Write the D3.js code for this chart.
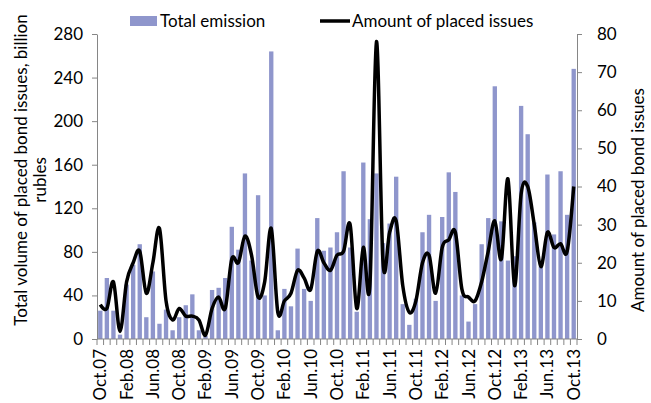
<!DOCTYPE html>
<html>
<head>
<meta charset="utf-8">
<script src="https://cdn.jsdelivr.net/npm/d3@7"></script>
<style>
  body { margin: 0; background: #fff; }
  svg text { font-family: Lato, "Open Sans", sans-serif; fill: #000; }
</style>
</head>
<body>
<div class="chart-output"></div>
<script>
var months = ["Oct.07","Nov.07","Dec.07","Jan.08","Feb.08","Mar.08","Apr.08","May.08","Jun.08","Jul.08","Aug.08","Sep.08",
  "Oct.08","Nov.08","Dec.08","Jan.09","Feb.09","Mar.09","Apr.09","May.09","Jun.09","Jul.09","Aug.09","Sep.09",
  "Oct.09","Nov.09","Dec.09","Jan.10","Feb.10","Mar.10","Apr.10","May.10","Jun.10","Jul.10","Aug.10","Sep.10",
  "Oct.10","Nov.10","Dec.10","Jan.11","Feb.11","Mar.11","Apr.11","May.11","Jun.11","Jul.11","Aug.11","Sep.11",
  "Oct.11","Nov.11","Dec.11","Jan.12","Feb.12","Mar.12","Apr.12","May.12","Jun.12","Jul.12","Aug.12","Sep.12",
  "Oct.12","Nov.12","Dec.12","Jan.13","Feb.13","Mar.13","Apr.13","May.13","Jun.13","Jul.13","Aug.13","Sep.13","Oct.13"];

// total emission, billion rubles
var emission = [26,56,26,4,50,68,87,20,62,14,27,8,
  20,31,41,8,3,45,47,56,103,82,152,72,
  132,40,264,8,46,30,83,46,35,111,81,84,
  98,154,84,25,162,110,152,88,106,149,32,13,
  37,98,114,35,112,153,135,40,16,32,87,111,
  232,108,72,76,214,188,107,70,151,96,154,114,248];

// amount of placed issues
var issues = [9,8,15,2,15,20,23,12,20,29,10,5,
  8,6,6,5,1,8,11,8,21,20,27,22,
  11,15,29,7,10,12,18,16,13,23,20,18,
  22,23,30,8,24,14,78,20,28,31,14,7,
  10,20,22,12,24,26,28,13,11,10,15,23,
  31,21,42,14,38,40,30,19,28,24,25,23,40];

var tickLabels = ["Oct.07","Feb.08","Jun.08","Oct.08","Feb.09","Jun.09","Oct.09","Feb.10","Jun.10","Oct.10",
  "Feb.11","Jun.11","Oct.11","Feb.12","Jun.12","Oct.12","Feb.13","Jun.13","Oct.13"];
var leftTicks = [0,40,80,120,160,200,240,280];
var rightTicks = [0,10,20,30,40,50,60,70,80];

(function() {
var w = 651, h = 403;
var pLeft = 97, pRight = 577, pTop = 34, pBottom = 339;
var axisColor = "#868686";
var fs = "17px";

var svg = d3.select(".chart-output").append("svg")
  .attr("width", w).attr("height", h);

var x = d3.scaleBand().domain(months).range([pLeft, pRight]).paddingInner(0.34).paddingOuter(0.17);
var xc = function(m) { return x(m) + x.bandwidth() / 2; };
var yL = d3.scaleLinear().domain([0, 280]).range([pBottom, pTop]);
var yR = d3.scaleLinear().domain([0, 80]).range([pBottom, pTop]);

// bars
svg.append("g").selectAll("rect")
  .data(emission)
  .enter()
  .append("rect")
  .attr("x", function(d, i) { return x(months[i]); })
  .attr("y", function(d) { return yL(d); })
  .attr("width", x.bandwidth())
  .attr("height", function(d) { return pBottom - yL(d); })
  .attr("fill", "#8f96cc");

// smoothed line
var line = d3.line()
  .x(function(d, i) { return xc(months[i]); })
  .y(function(d) { return yR(d); })
  .curve(d3.curveCatmullRom.alpha(0));

svg.append("path")
  .datum(issues)
  .attr("d", line)
  .attr("fill", "none")
  .attr("stroke", "#000")
  .attr("stroke-width", 3.5)
  .attr("stroke-linejoin", "round");

// left axis
var gl = svg.append("g").attr("transform", "translate(" + pLeft + ",0)")
  .call(d3.axisLeft(yL).tickValues(leftTicks).tickSize(5).tickPadding(9).tickSizeOuter(0));

// right axis
var gr = svg.append("g").attr("transform", "translate(" + pRight + ",0)")
  .call(d3.axisRight(yR).tickValues(rightTicks).tickSize(5).tickPadding(15).tickSizeOuter(0));

[gl, gr].forEach(function(g) {
  g.selectAll("text").style("font-size", fs).style("font-family", "Lato, sans-serif");
  g.selectAll("line").attr("stroke", axisColor);
  g.select(".domain").attr("stroke", axisColor);
});

// x axis: ticks at each category boundary
var step = x.step();
var gx = svg.append("g");
gx.append("line").attr("x1", pLeft).attr("x2", pRight).attr("y1", pBottom).attr("y2", pBottom).attr("stroke", axisColor);
gx.selectAll(".tk").data(d3.range(months.length + 1)).enter().append("line")
  .attr("x1", function(i) { return pLeft + i * step; })
  .attr("x2", function(i) { return pLeft + i * step; })
  .attr("y1", pBottom).attr("y2", pBottom + 6)
  .attr("stroke", axisColor);

gx.selectAll(".lbl").data(tickLabels).enter().append("text")
  .attr("transform", function(d) { return "translate(" + (xc(d) + 6) + "," + (pBottom + 10) + ") rotate(-90)"; })
  .attr("text-anchor", "end")
  .style("font-size", fs)
  .text(function(d) { return d; });

// axis titles
svg.append("text")
  .attr("transform", "translate(27,170) rotate(-90)")
  .attr("text-anchor", "middle").style("font-size", fs)
  .text("Total volume of placed bond issues, billion");
svg.append("text")
  .attr("transform", "translate(46,180) rotate(-90)")
  .attr("text-anchor", "middle").style("font-size", fs)
  .text("rubles");
svg.append("text")
  .attr("transform", "translate(644,200) rotate(-90)")
  .attr("text-anchor", "middle").style("font-size", fs)
  .text("Amount of placed bond issues");

// legend
svg.append("rect").attr("x", 130).attr("y", 16).attr("width", 27).attr("height", 10).attr("fill", "#8f96cc");
svg.append("text").attr("x", 160).attr("y", 27).style("font-size", fs).text("Total emission");
svg.append("line").attr("x1", 320).attr("x2", 350).attr("y1", 21).attr("y2", 21)
  .attr("stroke", "#000").attr("stroke-width", 3.5);
svg.append("text").attr("x", 352).attr("y", 27).style("font-size", fs).text("Amount of placed issues");
})();
</script>
</body>
</html>
